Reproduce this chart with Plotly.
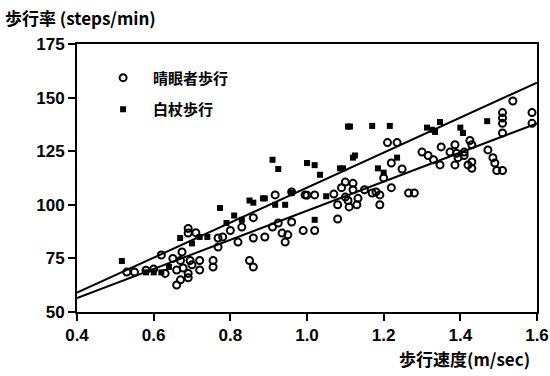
import plotly.graph_objects as go

# Sighted walking (open circles)
sighted_x = [0.53, 0.55, 0.58, 0.60, 0.62, 0.63, 0.65, 0.66, 0.66, 0.67, 0.67, 0.677, 0.674, 0.69, 0.69, 0.69,
             0.69, 0.695, 0.70, 0.71, 0.72, 0.72, 0.755, 0.755, 0.768, 0.768, 0.78, 0.80, 0.82, 0.83, 0.85, 0.86,
             0.86, 0.86, 0.89, 0.91, 0.917, 0.925, 0.935, 0.943, 0.95, 0.96, 0.96, 0.99, 0.995, 1.02, 1.02, 1.0,
             1.07, 1.08, 1.08, 1.09, 1.10, 1.10, 1.107, 1.11, 1.12, 1.12, 1.13, 1.133, 1.15, 1.17, 1.18, 1.19,
             1.19, 1.20, 1.21, 1.22, 1.22, 1.235, 1.248, 1.265, 1.28, 1.30, 1.316, 1.33, 1.35, 1.347, 1.373, 1.386,
             1.386, 1.39, 1.394, 1.41, 1.41, 1.42, 1.425, 1.43, 1.43, 1.43, 1.472, 1.485, 1.49, 1.495, 1.51, 1.51,
             1.51, 1.51, 1.51, 1.537, 1.587, 1.587]
sighted_y = [68.6, 68.6, 69.5, 70, 76.6, 68, 75, 69.6, 62.6, 65, 74, 70.5, 78, 89, 86.8, 68,
             66, 74, 72, 87, 74, 69.6, 74, 71, 84.5, 80.3, 85, 88, 82.6, 89.6, 74, 71,
             94, 84.5, 85, 89.6, 104.6, 91.5, 86.8, 82.6, 86, 92, 106, 88, 104.6, 104.6, 88, 104.5,
             105, 100, 93.4, 108, 110.6, 103.6, 102, 99, 107, 110, 100, 103, 107, 105.5, 106, 104.6,
             100, 112.5, 129, 108, 119.5, 129, 116.7, 105.5, 105.5, 124.6, 123, 121, 127, 118.6, 124.6, 118.6,
             128, 124, 122, 124.6, 123, 118.6, 130, 128, 120, 117, 125.6, 122, 119.5, 116, 116, 133.5,
             143, 140.5, 138, 148.4, 143, 138]

# White-cane walking (filled squares)
cane_x = [0.517, 0.58, 0.60, 0.62, 0.64, 0.669, 0.70, 0.72, 0.74, 0.773, 0.79, 0.81, 0.83, 0.85, 0.86,
          0.885, 0.89, 0.917, 0.943, 0.91, 0.925, 0.96, 1.0, 1.02, 1.02, 1.034, 1.05, 1.086, 1.094, 1.107,
          1.112, 1.12, 1.125, 1.17, 1.185, 1.20, 1.216, 1.235, 1.313, 1.326, 1.334, 1.347, 1.40, 1.407, 1.47]
cane_y = [73.8, 68.5, 68.5, 68.5, 71, 84.5, 82, 85, 85, 98.5, 91.5, 95, 93, 102, 101,
          103, 103, 100, 100, 121, 116.7, 105.5, 119.5, 118.5, 93, 114, 104, 117, 117, 136.5,
          136.5, 122, 123, 136.8, 117, 115, 136.8, 122, 136, 135, 134, 138.6, 136, 133.5, 139]

# Regression lines (endpoints)
fit_x = [0.4, 1.6]
cane_fit = [59.0, 157.0]
sighted_fit = [56.5, 138.0]

x_ticks = [0.4, 0.6, 0.8, 1.0, 1.2, 1.4, 1.6]
y_ticks = [50, 75, 100, 125, 150, 175]

FONT = "Noto Sans CJK JP"

fig = go.Figure()
fig.add_trace(go.Scatter(x=fit_x, y=cane_fit, mode="lines", line=dict(color="black", width=2),
                         showlegend=False, hoverinfo="skip"))
fig.add_trace(go.Scatter(x=fit_x, y=sighted_fit, mode="lines", line=dict(color="black", width=2),
                         showlegend=False, hoverinfo="skip"))
fig.add_trace(go.Scatter(x=sighted_x, y=sighted_y, mode="markers", name="晴眼者歩行", legendgroup="a",
                         marker=dict(symbol="circle-open", size=7, color="black", line=dict(width=2, color="black"))))
fig.add_trace(go.Scatter(x=cane_x, y=cane_y, mode="markers", name="白杖歩行", legendgroup="b",
                         marker=dict(symbol="square", size=6, color="black")))

fig.update_layout(
    width=550, height=376,
    margin=dict(l=77, r=13, t=44, b=64),
    paper_bgcolor="white", plot_bgcolor="white",
    font=dict(family=FONT, color="black"),
    legend=dict(x=0.035, y=0.935, xanchor="left", yanchor="top", bgcolor="rgba(0,0,0,0)",
                font=dict(size=15, family=FONT, weight="bold"), traceorder="grouped",
                tracegroupgap=9, itemwidth=50),
    xaxis=dict(range=[0.4, 1.6], tickvals=x_ticks, ticktext=[f"{v:.1f}" for v in x_ticks],
               showgrid=False, zeroline=False, showline=True, linecolor="black", linewidth=2,
               mirror=True, ticks="outside", ticklen=7, tickwidth=2, tickcolor="black", automargin=False,
               tickfont=dict(size=17, family="Liberation Sans", weight="bold")),
    yaxis=dict(range=[50, 175], tickvals=y_ticks, showgrid=False, zeroline=False, showline=True,
               linecolor="black", linewidth=2, mirror=True, ticks="outside", ticklen=7, tickwidth=2,
               tickcolor="black", automargin=False,
               tickfont=dict(size=17, family="Liberation Sans", weight="bold")),
    annotations=[
        dict(text="歩行率 (steps/min)", xref="paper", yref="paper", x=-0.16, y=1.0, yshift=27,
             xanchor="left", yanchor="middle", showarrow=False,
             font=dict(size=17, family=FONT, weight="bold")),
        dict(text="歩行速度(m/sec)", xref="paper", yref="paper", x=0.99, y=0, yshift=-46,
             xanchor="right", yanchor="middle", showarrow=False,
             font=dict(size=17, family=FONT, weight="bold")),
    ],
)

fig.write_html("out.html")
